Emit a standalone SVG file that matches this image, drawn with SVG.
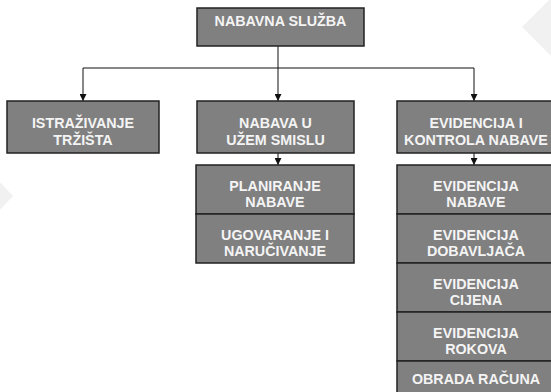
<svg xmlns="http://www.w3.org/2000/svg" width="551" height="392" viewBox="0 0 551 392">
<style>
.bg{fill:#f1f1f1}
.box{fill:#808080;stroke:#222;stroke-width:1.5}
.t{font-family:"Liberation Sans",Arial,sans-serif;font-weight:bold;font-size:14.3px;fill:#f4f4f4;text-anchor:middle}
.c{fill:none;stroke:#111;stroke-width:1}
</style>
<defs>
<marker id="ah" viewBox="0 0 8 8" refX="8" refY="4" markerWidth="7" markerHeight="7" markerUnits="userSpaceOnUse" orient="auto">
<path d="M0,0 L8,4 L0,8 z" fill="#111"/>
</marker>
</defs>
<rect width="551" height="392" fill="#fff"/>
<polygon class="bg" points="553,-4 522,27 553,58"/>
<polygon class="bg" points="-2,180 13,196 -2,212"/>
<g id="connectors">
<path class="c" d="M278,46 V68"/>
<path class="c" d="M83,68 H474"/>
<path class="c" d="M83,68 V101" marker-end="url(#ah)"/>
<path class="c" d="M278,68 V101" marker-end="url(#ah)"/>
<path class="c" d="M474,68 V101" marker-end="url(#ah)"/>
<path class="c" d="M278,153 V165" marker-end="url(#ah)"/>
<path class="c" d="M474,153 V165" marker-end="url(#ah)"/>
</g>
<g id="nabavna-sluzba">
<rect class="box" x="197" y="8" width="167" height="38"/>
<text class="t" x="280.5" y="26">NABAVNA SLUŽBA</text>
</g>
<g id="istrazivanje">
<rect class="box" x="7" y="101" width="152" height="52"/>
<text class="t" x="83" y="128">ISTRAŽIVANJE</text>
<text class="t" x="83" y="145">TRŽIŠTA</text>
</g>
<g id="nabava-uzem">
<rect class="box" x="197" y="101" width="157" height="52"/>
<text class="t" x="275.5" y="128">NABAVA U</text>
<text class="t" x="275.5" y="145">UŽEM SMISLU</text>
</g>
<g id="evidencija-kontrola">
<rect class="box" x="397" y="101" width="158" height="52"/>
<text class="t" x="476" y="128">EVIDENCIJA I</text>
<text class="t" x="476" y="145">KONTROLA NABAVE</text>
</g>
<g id="planiranje">
<rect class="box" x="196" y="165" width="158" height="49"/>
<text class="t" x="275" y="191">PLANIRANJE</text>
<text class="t" x="275" y="207">NABAVE</text>
</g>
<g id="ugovaranje">
<rect class="box" x="196" y="214" width="158" height="49"/>
<text class="t" x="275" y="240">UGOVARANJE I</text>
<text class="t" x="275" y="256">NARUČIVANJE</text>
</g>
<g id="evidencija-nabave">
<rect class="box" x="397" y="165" width="158" height="49"/>
<text class="t" x="476" y="191">EVIDENCIJA</text>
<text class="t" x="476" y="207">NABAVE</text>
</g>
<g id="evidencija-dobavljaca">
<rect class="box" x="397" y="214" width="158" height="49"/>
<text class="t" x="476" y="240">EVIDENCIJA</text>
<text class="t" x="476" y="256">DOBAVLJAČA</text>
</g>
<g id="evidencija-cijena">
<rect class="box" x="397" y="263" width="158" height="49"/>
<text class="t" x="476" y="289">EVIDENCIJA</text>
<text class="t" x="476" y="305">CIJENA</text>
</g>
<g id="evidencija-rokova">
<rect class="box" x="397" y="312" width="158" height="49"/>
<text class="t" x="476" y="338">EVIDENCIJA</text>
<text class="t" x="476" y="354">ROKOVA</text>
</g>
<g id="obrada-racuna">
<rect class="box" x="397" y="361" width="158" height="40"/>
<text class="t" x="476" y="384">OBRADA RAČUNA</text>
</g>
</svg>
